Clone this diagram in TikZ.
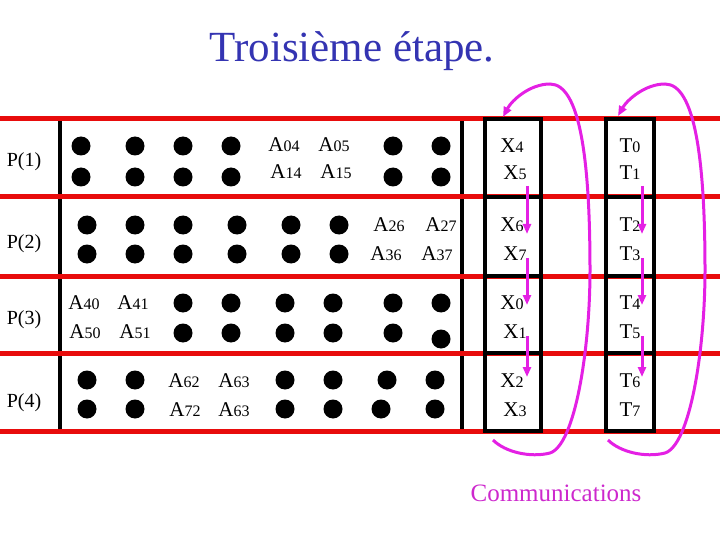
\documentclass[tikz,border=0pt]{standalone}
\usepackage{fontspec}
\setmainfont{Liberation Serif}
\usetikzlibrary{arrows.meta}
\definecolor{redline}{RGB}{232,12,12}
\definecolor{mag}{RGB}{228,32,228}
\definecolor{magtext}{RGB}{205,40,205}
\definecolor{titleblue}{RGB}{52,52,178}
\newcommand\lbl[2]{#1{\fontsize{16}{16}\selectfont #2}}
\tikzset{
  dot/.style={circle,fill=black,inner sep=0pt,minimum size=19pt},
  lab/.style={anchor=base,inner sep=0pt,font=\fontsize{21}{21}\selectfont},
  plab/.style={anchor=base,inner sep=0pt,font=\fontsize{20}{20}\selectfont},
  redrule/.style={draw=redline,line width=5pt},
  blackrule/.style={draw=black,line width=3.5pt},
  boxline/.style={draw=black,line width=4pt},
  comm/.style={draw=mag,line width=3pt,-{Triangle[length=10pt,width=8pt]}},
}
\begin{document}
\begin{tikzpicture}[x=1pt,y=-1pt]
\useasboundingbox (0,0) rectangle (720,540);
% title
\node[anchor=base,inner sep=0pt,text=titleblue,font=\fontsize{43}{43}\selectfont] (title) at (352,62) {Troisième étape.};
% vertical black rules
\coordinate (v1t) at (60,119); \coordinate (v1b) at (60,431);
\coordinate (v2t) at (462,119); \coordinate (v2b) at (462,431);
\draw[blackrule] (v1t) -- (v1b);
\draw[blackrule] (v2t) -- (v2b);
% red rules
\foreach \y [count=\i] in {119,197,276,353,431} {
  \coordinate (rl\i) at (0,\y); \coordinate (rr\i) at (720,\y);
  \draw[redrule] (rl\i) -- (rr\i);
}
% boxes
\foreach \xl/\xr/\n in {485/541/X,606/654/T} {
  \draw[boxline] (\xl,119) rectangle (\xr,431);
  \foreach \y [count=\k] in {197,276,353} {
    \coordinate (\n bl\k) at (\xl,\y); \coordinate (\n br\k) at (\xr,\y);
    \draw[boxline] (\n bl\k) -- (\n br\k);
  }
}
% row labels
\node[plab] (p1) at (24,167) {P(1)};
\node[plab] (p2) at (24,248) {P(2)};
\node[plab] (p3) at (24,324) {P(3)};
\node[plab] (p4) at (24,407) {P(4)};
% dots
\foreach \x [count=\i] in {81,135,183,231,393,441} {
  \node[dot] (d1a\i) at (\x,146) {}; \node[dot] (d1b\i) at (\x,177) {};
}
\foreach \x [count=\i] in {87,135,183,237,291,339} {
  \node[dot] (d2a\i) at (\x,225) {}; \node[dot] (d2b\i) at (\x,254) {};
}
\foreach \x [count=\i] in {183,231,285,333,393,441} {
  \node[dot] (d3a\i) at (\x,303) {};
}
\foreach \x/\y [count=\i] in {183/333,231/333,285/333,333/333,393/333,441/339} {
  \node[dot] (d3b\i) at (\x,\y) {};
}
\foreach \x [count=\i] in {87,135,285,333,387,435} {
  \node[dot] (d4a\i) at (\x,380) {};
}
\foreach \x [count=\i] in {87,135,285,333,381,435} {
  \node[dot] (d4b\i) at (\x,409) {};
}
% A labels
\node[lab] (a04) at (284,152) {\lbl{A}{04}};
\node[lab] (a05) at (334,152) {\lbl{A}{05}};
\node[lab] (a14) at (286,179) {\lbl{A}{14}};
\node[lab] (a15) at (336,179) {\lbl{A}{15}};
\node[lab] (a26) at (389,232) {\lbl{A}{26}};
\node[lab] (a27) at (441,232) {\lbl{A}{27}};
\node[lab] (a36) at (386,260) {\lbl{A}{36}};
\node[lab] (a37) at (437,260) {\lbl{A}{37}};
\node[lab] (a40) at (84,309) {\lbl{A}{40}};
\node[lab] (a41) at (133,309) {\lbl{A}{41}};
\node[lab] (a50) at (85,338) {\lbl{A}{50}};
\node[lab] (a51) at (135,338) {\lbl{A}{51}};
\node[lab] (a62) at (184,387) {\lbl{A}{62}};
\node[lab] (a63) at (234,387) {\lbl{A}{63}};
\node[lab] (a72) at (185,416) {\lbl{A}{72}};
\node[lab] (a63b) at (234,416) {\lbl{A}{63}};
% X and T labels
\foreach \a/\b/\ya/\yb/\k in {4/5/153/180/1,6/7/232/260/2,0/1/309/338/3,2/3/387/416/4} {
  \node[lab] (xa\k) at (512,\ya) {\lbl{X}{\a}};
  \node[lab] (xb\k) at (515,\yb) {\lbl{X}{\b}};
}
\foreach \a/\b/\ya/\yb/\k in {0/1/153/180/1,2/3/232/260/2,4/5/309/338/3,6/7/387/416/4} {
  \node[lab] (ta\k) at (630,\ya) {\lbl{T}{\a}};
  \node[lab] (tb\k) at (630,\yb) {\lbl{T}{\b}};
}
% short communication arrows
\foreach \ys/\ye [count=\k] in {186/234,258/305,336/377} {
  \coordinate (xs\k) at (527,\ys); \coordinate (xe\k) at (527,\ye);
  \draw[comm] (xs\k) -- (xe\k);
  \coordinate (ts\k) at (642,\ys); \coordinate (te\k) at (642,\ye);
  \draw[comm] (ts\k) -- (te\k);
}
% big curved arrows
\coordinate (cxs) at (493,440); \coordinate (cxe) at (503,117);
\draw[comm] (cxs) .. controls (505,452) and (530,458) .. (550,453)
  .. controls (575,445) and (590,350) .. (590,270)
  .. controls (590,160) and (580,84) .. (550,84)
  .. controls (530,84) and (512,100) .. (cxe);
\coordinate (cts) at (608,440); \coordinate (cte) at (618,116);
\draw[comm] (cts) .. controls (620,452) and (645,458) .. (665,453)
  .. controls (690,445) and (705,350) .. (705,270)
  .. controls (705,160) and (695,84) .. (665,84)
  .. controls (645,84) and (627,100) .. (cte);
% caption
\node[anchor=base,inner sep=0pt,text=magtext,font=\fontsize{25}{25}\selectfont] (comms) at (556,501) {Communications};
\end{tikzpicture}
\end{document}
